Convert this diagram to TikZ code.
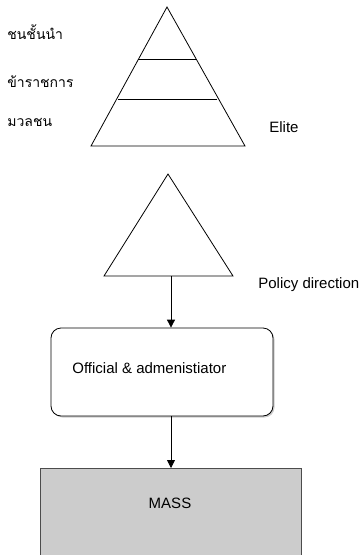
\documentclass[tikz,border=0pt]{standalone}
\usepackage{fontspec}
\setmainfont{Liberation Sans}
\newfontfamily\thaifont[Script=Thai]{Loma}
\usetikzlibrary{arrows.meta,shadows}

\tikzset{
  level/.style={font=\thaifont\fontsize{14}{16}\selectfont, anchor=west, inner sep=0pt},
  note/.style={font=\fontsize{15}{17}\selectfont, anchor=west, inner sep=0pt},
  flow/.style={draw, line width=0.8pt, -{Triangle[width=8pt,length=8pt]}},
}

\begin{document}
\begin{tikzpicture}[x=1pt,y=-1pt,line width=0.8pt]
\useasboundingbox (0,0) rectangle (362,555);
% pyramid
\draw (167,7) -- (245,146) -- (91,146) -- cycle;
\draw (138,59) -- (196,59);
\draw (118,99) -- (217,99);
\node[level] (elite) at (7,32) {ชนชั้นนำ};
\node[level] (civil) at (7,82) {ข้าราชการ};
\node[level] (people) at (7,122) {มวลชน};
\node[note] (elitelbl) at (269,127) {Elite};
% policy triangle
\draw (168,174) -- (233,276) -- (104,276) -- cycle;
\coordinate (policy) at (171,276);
\node[note] (policylbl) at (258,285) {Policy direction};
\node[draw, rounded corners=10pt, minimum width=222pt, minimum height=88pt,
      fill=white, drop shadow={shadow xshift=1.5pt, shadow yshift=-1.5pt, opacity=0.4}]
      (official) at (162,372) {};
\node[note] (officiallbl) at (72,368) {Official \& admenistiator};
\node[draw=black!70, fill=black!20, minimum width=261pt, minimum height=100pt,
      anchor=north] (mass) at (170.5,468) {};
\node[note, anchor=center] (masslbl) at (170,503) {MASS};
\draw[flow] (policy) -- (policy |- official.north);
\draw[flow] (policy |- official.south) -- (policy |- mass.north);
\end{tikzpicture}
\end{document}
